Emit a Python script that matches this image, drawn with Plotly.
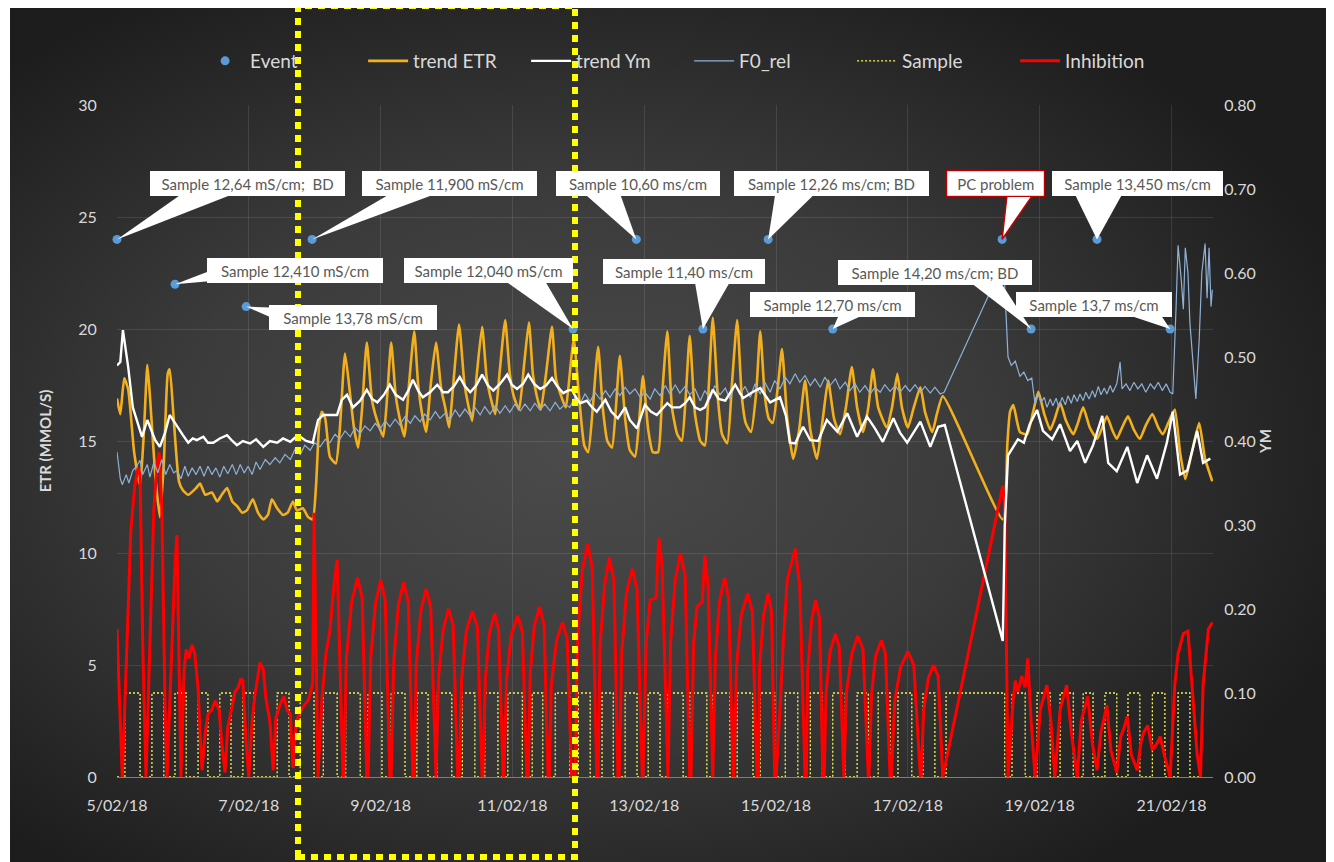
import base64
import numpy as np
import pandas as pd
import plotly.graph_objects as go

# ---------------------------------------------------------------- data
BASE_DATE = "2018-02-05"          # x values below are days after this date
X_END_DAYS = 16.63

EVENT_DAYS = [0.00, 0.88, 1.96, 2.96, 6.92, 7.88, 8.89, 9.88, 10.86, 13.43, 13.87, 14.87, 15.98]
EVENT_VALUES = [24, 22, 21, 24, 20, 24, 20, 24, 20, 24, 20, 24, 20]
EVENT_LABELS = [
    "Sample 12,64 mS/cm;  BD", "Sample 12,410 mS/cm", "Sample 13,78 mS/cm",
    "Sample 11,900 mS/cm", "Sample 12,040 mS/cm", "Sample 10,60 ms/cm",
    "Sample 11,40 ms/cm", "Sample 12,26 ms/cm; BD", "Sample 12,70 ms/cm",
    "PC problem", "Sample 14,20 ms/cm; BD", "Sample 13,450 ms/cm", "Sample 13,7 ms/cm",
]

ETR_DAYS = [0.00, 0.05, 0.11, 0.17, 0.26, 0.35, 0.41, 0.46, 0.50, 0.58, 0.65, 0.71, 0.77, 0.80, 0.86, 0.94,
            1.00, 1.08, 1.20, 1.26, 1.34, 1.44, 1.52, 1.59, 1.67, 1.75, 1.82, 1.90, 1.97, 2.06, 2.14, 2.22,
            2.29, 2.35, 2.43, 2.52, 2.59, 2.67, 2.73, 2.82, 2.90, 2.97, 3.02, 3.07, 3.11, 3.16, 3.23, 3.32,
            3.38, 3.46, 3.54, 3.60, 3.66, 3.72, 3.79, 3.87, 3.96, 4.04, 4.10, 4.16, 4.23, 4.29, 4.36, 4.43,
            4.51, 4.57, 4.63, 4.69, 4.76, 4.84, 4.92, 4.98, 5.04, 5.11, 5.19, 5.27, 5.33, 5.39, 5.46, 5.54,
            5.61, 5.68, 5.74, 5.81, 5.89, 5.96, 6.02, 6.10, 6.18, 6.25, 6.31, 6.37, 6.43, 6.51, 6.60, 6.66,
            6.74, 6.81, 6.87, 6.93, 7.01, 7.09, 7.15, 7.22, 7.30, 7.37, 7.44, 7.51, 7.57, 7.63, 7.71, 7.78,
            7.86, 7.92, 7.98, 8.06, 8.13, 8.21, 8.27, 8.35, 8.42, 8.50, 8.57, 8.63, 8.69, 8.77, 8.85, 8.92,
            8.98, 9.04, 9.12, 9.18, 9.26, 9.33, 9.41, 9.48, 9.54, 9.62, 9.70, 9.76, 9.83, 9.89, 9.95, 10.03,
            10.09, 10.17, 10.26, 10.35, 10.44, 10.52, 10.62, 10.71, 10.79, 10.88, 10.97, 11.06, 11.15, 11.23,
            11.32, 11.40, 11.47, 11.55, 11.68, 11.76, 11.84, 11.91, 12.00, 12.09, 12.19, 12.26, 12.37, 12.44,
            12.53, 13.44, 13.51, 13.55, 13.60, 13.70, 13.81, 13.90, 13.98, 14.07, 14.16, 14.23, 14.31, 14.40,
            14.51, 14.58, 14.66, 14.76, 14.87, 14.95, 15.02, 15.10, 15.17, 15.25, 15.34, 15.43, 15.52, 15.61,
            15.71, 15.80, 15.87, 15.95, 16.05, 16.13, 16.21, 16.31, 16.42, 16.51, 16.62]
ETR_VALUES = [16.9, 16.2, 17.8, 17.3, 14.5, 13.0, 15.5, 18.4, 17.0, 13.5, 11.6, 14.0, 18.0, 18.2, 16.0, 13.2,
              12.8, 12.6, 12.9, 13.1, 12.6, 12.7, 12.3, 12.6, 12.9, 12.3, 12.1, 11.8, 11.9, 12.4, 11.8, 11.5,
              11.7, 12.4, 12.0, 11.7, 11.8, 12.3, 11.9, 12.0, 11.6, 11.5, 13.0, 15.8, 16.3, 16.0, 14.3, 14.0,
              15.5, 18.9, 17.0, 15.5, 14.7, 16.5, 19.4, 16.8, 15.8, 15.2, 17.0, 19.4, 17.0, 16.0, 15.2, 17.5,
              19.9, 17.5, 16.2, 15.4, 17.5, 19.4, 17.3, 16.5, 15.6, 17.8, 20.2, 17.6, 16.6, 15.9, 18.0, 20.1,
              17.8, 16.8, 16.2, 18.2, 20.4, 18.0, 17.0, 16.4, 18.5, 20.3, 18.0, 17.0, 16.4, 18.0, 20.1, 17.8,
              17.0, 16.5, 18.0, 19.6, 17.0, 14.8, 14.5, 16.5, 19.2, 16.5, 15.0, 14.7, 16.5, 18.8, 16.0, 14.6,
              14.3, 15.8, 17.9, 15.5, 14.5, 14.5, 17.0, 19.9, 16.5, 15.3, 15.0, 17.0, 19.7, 16.2, 15.0, 14.8,
              17.5, 20.5, 16.8, 15.3, 14.9, 17.5, 20.4, 17.0, 15.8, 15.4, 17.2, 19.9, 17.0, 16.0, 15.8, 17.5,
              19.1, 16.0, 14.2, 15.5, 17.7, 15.5, 14.2, 16.0, 17.7, 16.0, 15.3, 16.5, 18.3, 16.5,
              15.4, 16.5, 18.2, 16.5, 15.6, 16.5, 18.0, 16.5, 15.6, 16.5, 17.4, 16.3, 15.4, 16.2,
              17.0, 11.5, 14.9, 16.3, 16.6, 15.4, 15.3, 16.3, 17.2, 16.2, 15.5, 16.0, 16.7, 15.9,
              15.3, 15.8, 16.5, 15.6, 15.1, 15.6, 16.1, 15.5, 15.1, 15.6, 16.1, 15.5, 15.1, 15.7,
              16.2, 15.6, 15.3, 15.8, 16.4, 14.5, 13.3, 14.5, 15.8, 14.2, 13.2]

YM_DAYS = [0.00, 0.05, 0.09, 0.17, 0.24, 0.38, 0.46, 0.58, 0.65, 0.73, 0.80, 0.91, 1.00, 1.08, 1.15, 1.21,
           1.31, 1.38, 1.46, 1.56, 1.67, 1.75, 1.82, 1.91, 2.02, 2.11, 2.22, 2.32, 2.43, 2.52, 2.63, 2.70,
           2.78, 2.87, 2.97, 3.05, 3.13, 3.23, 3.34, 3.41, 3.49, 3.58, 3.69, 3.79, 3.87, 3.95, 4.05, 4.14,
           4.23, 4.34, 4.42, 4.49, 4.57, 4.64, 4.75, 4.86, 4.95, 5.02, 5.11, 5.20, 5.28, 5.36, 5.45, 5.54,
           5.63, 5.71, 5.81, 5.92, 5.99, 6.07, 6.16, 6.24, 6.33, 6.42, 6.51, 6.60, 6.68, 6.77, 6.84, 6.90,
           6.98, 7.03, 7.13, 7.21, 7.28, 7.41, 7.50, 7.60, 7.71, 7.78, 7.89, 8.01, 8.10, 8.19, 8.27, 8.35,
           8.42, 8.54, 8.62, 8.69, 8.77, 8.85, 8.92, 9.04, 9.13, 9.23, 9.38, 9.50, 9.64, 9.76, 9.91, 10.06,
           10.15, 10.21, 10.29, 10.41, 10.52, 10.64, 10.77, 10.93, 11.08, 11.23, 11.38, 11.50, 11.62, 11.78,
           11.88, 11.99, 12.19, 12.34, 12.46, 12.56, 13.44, 13.47, 13.52, 13.60, 13.67, 13.76, 13.85, 13.96,
           14.05, 14.19, 14.31, 14.46, 14.57, 14.69, 14.81, 14.95, 15.04, 15.17, 15.33, 15.48, 15.63, 15.78,
           15.93, 16.02, 16.13, 16.24, 16.39, 16.48, 16.59]
YM_VALUES = [0.490, 0.494, 0.532, 0.488, 0.440, 0.405, 0.425, 0.401, 0.393, 0.410, 0.431, 0.417, 0.407, 0.398,
             0.403, 0.401, 0.405, 0.398, 0.398, 0.403, 0.407, 0.400, 0.395, 0.400, 0.397, 0.402, 0.393, 0.400,
             0.398, 0.403, 0.399, 0.404, 0.405, 0.400, 0.398, 0.425, 0.431, 0.431, 0.431, 0.449, 0.455, 0.440,
             0.448, 0.461, 0.450, 0.446, 0.455, 0.467, 0.455, 0.449, 0.460, 0.473, 0.460, 0.452, 0.458, 0.467,
             0.458, 0.458, 0.465, 0.476, 0.465, 0.458, 0.466, 0.479, 0.466, 0.460, 0.468, 0.479, 0.467, 0.462,
             0.468, 0.479, 0.468, 0.462, 0.466, 0.475, 0.465, 0.457, 0.460, 0.461, 0.450, 0.445, 0.448, 0.440,
             0.435, 0.449, 0.435, 0.427, 0.440, 0.425, 0.415, 0.443, 0.435, 0.431, 0.438, 0.445, 0.440, 0.440,
             0.445, 0.452, 0.440, 0.437, 0.440, 0.461, 0.450, 0.448, 0.467, 0.451, 0.458, 0.463, 0.446, 0.452,
             0.430, 0.398, 0.397, 0.417, 0.401, 0.400, 0.425, 0.411, 0.433, 0.405, 0.429, 0.415, 0.399, 0.427,
             0.410, 0.398, 0.423, 0.393, 0.417, 0.419, 0.162, 0.298, 0.383, 0.393, 0.402, 0.398, 0.420, 0.437,
             0.412, 0.402, 0.420, 0.388, 0.400, 0.374, 0.395, 0.430, 0.374, 0.364, 0.393, 0.350, 0.383, 0.355,
             0.398, 0.435, 0.360, 0.365, 0.412, 0.374, 0.379]

F0_DAYS = [0.00, 0.05, 0.08, 0.14, 0.18, 0.24, 0.29, 0.35, 0.39, 0.46, 0.50, 0.56, 0.62, 0.68, 0.74, 0.80,
           0.86, 0.91, 0.97, 1.03, 1.08, 1.14, 1.20, 1.26, 1.32, 1.38, 1.44, 1.50, 1.56, 1.62, 1.68, 1.75,
           1.81, 1.87, 1.93, 1.99, 2.05, 2.11, 2.17, 2.25, 2.32, 2.40, 2.47, 2.55, 2.63, 2.70, 2.78, 2.85,
           2.93, 3.00, 3.08, 3.16, 3.23, 3.31, 3.38, 3.46, 3.54, 3.61, 3.69, 3.76, 3.84, 3.92, 3.99, 4.07,
           4.14, 4.22, 4.29, 4.37, 4.45, 4.52, 4.60, 4.67, 4.75, 4.83, 4.90, 4.98, 5.05, 5.13, 5.20, 5.28,
           5.36, 5.43, 5.51, 5.58, 5.66, 5.74, 5.81, 5.89, 5.96, 6.04, 6.12, 6.19, 6.27, 6.34, 6.42, 6.49,
           6.57, 6.65, 6.72, 6.80, 6.87, 6.95, 7.03, 7.10, 7.18, 7.25, 7.33, 7.41, 7.48, 7.56, 7.63, 7.71,
           7.78, 7.86, 7.94, 8.01, 8.09, 8.16, 8.24, 8.32, 8.39, 8.47, 8.54, 8.62, 8.69, 8.77, 8.85, 8.92,
           9.00, 9.07, 9.15, 9.23, 9.30, 9.38, 9.45, 9.53, 9.61, 9.68, 9.76, 9.83, 9.91, 9.98, 10.06, 10.14,
           10.21, 10.29, 10.36, 10.44, 10.52, 10.59, 10.67, 10.74, 10.82, 10.90, 10.97, 11.05, 11.12, 11.20,
           11.27, 11.35, 11.43, 11.50, 11.58, 11.65, 11.73, 11.81, 11.88, 11.96, 12.03, 12.11, 12.19, 12.26,
           12.34, 12.41, 12.49, 12.55, 13.41, 13.46, 13.52, 13.57, 13.63, 13.70, 13.76, 13.82, 13.88, 13.93,
           13.98, 14.02, 14.07, 14.11, 14.16, 14.20, 14.25, 14.29, 14.34, 14.39, 14.43, 14.48, 14.52, 14.57,
           14.61, 14.66, 14.70, 14.75, 14.80, 14.84, 14.89, 14.93, 14.98, 15.02, 15.07, 15.11, 15.17, 15.22,
           15.25, 15.31, 15.37, 15.43, 15.49, 15.55, 15.61, 15.68, 15.74, 15.80, 15.86, 15.92, 15.98, 16.02,
           16.07, 16.10, 16.15, 16.18, 16.21, 16.25, 16.28, 16.32, 16.37, 16.42, 16.46, 16.51, 16.54, 16.57,
           16.60, 16.62]
F0_VALUES = [0.387, 0.355, 0.348, 0.360, 0.350, 0.365, 0.369, 0.377, 0.360, 0.372, 0.357, 0.375, 0.362, 0.378,
             0.360, 0.372, 0.362, 0.365, 0.355, 0.370, 0.358, 0.368, 0.360, 0.370, 0.358, 0.370, 0.360, 0.368,
             0.357, 0.370, 0.361, 0.372, 0.360, 0.372, 0.362, 0.370, 0.360, 0.375, 0.366, 0.378, 0.372, 0.380,
             0.374, 0.384, 0.378, 0.390, 0.384, 0.395, 0.389, 0.398, 0.393, 0.402, 0.398, 0.408, 0.402, 0.412,
             0.405, 0.416, 0.409, 0.418, 0.412, 0.421, 0.414, 0.424, 0.417, 0.426, 0.419, 0.429, 0.421, 0.430,
             0.423, 0.432, 0.425, 0.435, 0.427, 0.433, 0.425, 0.437, 0.429, 0.438, 0.430, 0.440, 0.431, 0.441,
             0.432, 0.442, 0.433, 0.442, 0.434, 0.444, 0.436, 0.444, 0.436, 0.445, 0.437, 0.444, 0.436, 0.446,
             0.438, 0.444, 0.440, 0.452, 0.445, 0.456, 0.447, 0.458, 0.450, 0.460, 0.452, 0.462, 0.454, 0.464,
             0.456, 0.462, 0.452, 0.458, 0.450, 0.462, 0.454, 0.466, 0.456, 0.467, 0.457, 0.465, 0.455, 0.462,
             0.448, 0.460, 0.450, 0.466, 0.455, 0.463, 0.450, 0.468, 0.455, 0.465, 0.452, 0.468, 0.456, 0.470,
             0.458, 0.472, 0.462, 0.476, 0.468, 0.480, 0.470, 0.478, 0.466, 0.474, 0.464, 0.476, 0.466, 0.474,
             0.462, 0.470, 0.460, 0.468, 0.458, 0.466, 0.456, 0.464, 0.458, 0.467, 0.459, 0.466, 0.458, 0.466,
             0.459, 0.467, 0.458, 0.465, 0.457, 0.464, 0.456, 0.458, 0.605, 0.600, 0.500, 0.490, 0.495, 0.477,
             0.482, 0.472, 0.475, 0.444, 0.456, 0.446, 0.452, 0.440, 0.450, 0.442, 0.451, 0.440, 0.452, 0.443,
             0.454, 0.445, 0.455, 0.447, 0.456, 0.448, 0.458, 0.450, 0.460, 0.452, 0.465, 0.455, 0.463, 0.456,
             0.466, 0.458, 0.468, 0.494, 0.462, 0.468, 0.460, 0.470, 0.462, 0.468, 0.458, 0.468, 0.462, 0.470,
             0.460, 0.468, 0.458, 0.456, 0.560, 0.633, 0.590, 0.557, 0.630, 0.600, 0.540, 0.500, 0.450, 0.520,
             0.600, 0.635, 0.570, 0.630, 0.560, 0.580]

SAMPLE_LEVEL = 3.75  # reads 0.10 on the YM axis
SAMPLE_ON_DAYS = [0.12, 0.53, 0.88, 1.23, 1.56, 1.91, 2.43, 2.78, 3.13, 3.47, 3.81, 4.16, 4.55, 4.86, 5.24,
                  5.58, 5.93, 6.30, 6.65, 7.00, 7.36, 7.71, 8.06, 8.36, 8.69, 9.04, 9.41, 9.76, 10.14, 10.52,
                  10.86, 11.23, 11.55, 11.85, 12.23, 12.58, 13.58, 13.96, 14.31, 14.66, 14.99, 15.34, 15.71, 16.10]
SAMPLE_OFF_DAYS = [0.35, 0.71, 1.05, 1.38, 1.73, 2.08, 2.61, 2.99, 3.34, 3.69, 4.02, 4.37, 4.72, 5.08, 5.43,
                   5.78, 6.15, 6.46, 6.87, 7.18, 7.53, 7.89, 8.24, 8.59, 8.95, 9.30, 9.65, 9.98, 10.33, 10.70,
                   11.05, 11.40, 11.73, 12.06, 12.41, 13.47, 13.78, 14.16, 14.51, 14.81, 15.17, 15.52, 15.90, 16.28]
SAMPLE_END_DAYS = 16.45

INHIB_DAYS = [0.00, 0.03, 0.08, 0.14, 0.21, 0.27, 0.32, 0.35, 0.39, 0.44, 0.50, 0.56, 0.61, 0.64, 0.68, 0.73,
              0.76, 0.83, 0.88, 0.91, 0.94, 0.97, 1.02, 1.05, 1.09, 1.14, 1.18, 1.23, 1.26, 1.29, 1.34, 1.38,
              1.44, 1.49, 1.55, 1.59, 1.64, 1.68, 1.75, 1.79, 1.84, 1.88, 1.91, 1.96, 2.00, 2.05, 2.09, 2.14,
              2.17, 2.22, 2.26, 2.32, 2.37, 2.41, 2.47, 2.53, 2.58, 2.63, 2.67, 2.72, 2.78, 2.84, 2.90, 2.94,
              2.97, 2.99, 3.02, 3.05, 3.11, 3.17, 3.23, 3.29, 3.34, 3.38, 3.43,
              3.44, 3.48, 3.56, 3.65, 3.72, 3.79, 3.81, 3.85, 3.92, 4.00, 4.07, 4.14,
              4.16, 4.20, 4.27, 4.35, 4.42, 4.49, 4.51, 4.54, 4.61, 4.69, 4.76, 4.83,
              4.84, 4.88, 4.95, 5.03, 5.10, 5.17, 5.19, 5.23, 5.30, 5.39, 5.47, 5.54,
              5.55, 5.59, 5.65, 5.73, 5.79, 5.86, 5.87, 5.91, 5.98, 6.08, 6.15, 6.22,
              6.24, 6.27, 6.33, 6.41, 6.48, 6.54, 6.56, 6.59, 6.67, 6.76, 6.83, 6.90,
              6.95, 6.99, 7.06, 7.14, 7.21, 7.28, 7.30, 7.33, 7.40, 7.47, 7.54, 7.60,
              7.62, 7.66, 7.73, 7.82, 7.89, 7.97, 7.98, 8.03, 8.09, 8.18, 8.22, 8.27, 8.35,
              8.36, 8.40, 8.47, 8.55, 8.62, 8.69, 8.71, 8.75, 8.80, 8.88, 8.92, 8.97, 9.03,
              9.04, 9.08, 9.14, 9.22, 9.28, 9.35, 9.36, 9.40, 9.47, 9.57, 9.64, 9.71,
              9.73, 9.75, 9.81, 9.88, 9.93, 9.98, 10.00, 10.05, 10.11, 10.17, 10.29, 10.36, 10.44,
              10.46, 10.48, 10.54, 10.60, 10.66, 10.71, 10.73, 10.76, 10.82, 10.90, 10.96, 11.02,
              11.03, 11.07, 11.15, 11.24, 11.32, 11.40, 11.41, 11.45, 11.51, 11.60, 11.66, 11.73,
              11.75, 11.80, 11.89, 12.00, 12.09, 12.19, 12.20, 12.24, 12.31, 12.39, 12.46, 12.53,
              13.44, 13.47, 13.52, 13.60, 13.63, 13.67, 13.73, 13.78, 13.82, 13.87, 13.93, 14.01, 14.07,
              14.11, 14.17, 14.23, 14.31, 14.37, 14.41, 14.48, 14.57, 14.63, 14.69, 14.73, 14.80, 14.87,
              14.93, 14.98, 15.02, 15.08, 15.17, 15.23, 15.28, 15.33, 15.39, 15.48, 15.54, 15.58, 15.64,
              15.71, 15.78, 15.83, 15.89, 15.98, 16.05, 16.10, 16.18, 16.25, 16.31, 16.39, 16.44, 16.48,
              16.56, 16.62]
INHIB_VALUES = [6.6, 4.0, 0.0, 5.0, 11.0, 13.0, 13.8, 13.5, 6.0, 0.0, 6.0, 12.0, 14.0, 14.5, 12.0, 3.0,
                0.0, 6.0, 9.5, 10.8, 5.0, 0.0, 4.8, 5.7, 5.3, 5.9, 5.5, 4.0, 2.0, 0.3, 2.0, 2.8,
                3.0, 3.4, 3.0, 1.5, 0.2, 2.2, 3.2, 3.8, 4.0, 4.4, 4.3, 1.5, 0.0, 2.5, 3.6, 4.5,
                5.1, 4.8, 3.5, 2.5, 0.3, 2.6, 3.2, 3.6, 3.0, 2.8, 0.4, 2.5, 2.9, 3.2, 3.4, 3.8,
                4.2, 11.8, 6.0, 0.0, 3.5, 5.5, 6.5, 8.5, 9.7, 5.0, 0.0,
                0, 5.3, 7.8, 8.9, 8.0, 0, 0, 5.3, 7.7, 8.8, 7.9, 0,
                0, 5.2, 7.7, 8.7, 7.8, 0, 0, 5.0, 7.4, 8.4, 7.6, 0,
                0, 4.5, 6.6, 7.5, 6.8, 0, 0, 4.4, 6.5, 7.4, 6.7, 0,
                0, 4.4, 6.4, 7.3, 6.6, 0, 0, 4.3, 6.3, 7.2, 6.5, 0,
                0, 4.6, 6.7, 7.6, 6.8, 0, 0, 4.1, 6.1, 6.9, 6.2, 0,
                0, 6.2, 9.2, 10.4, 9.4, 0, 0, 5.9, 8.6, 9.8, 8.8, 0,
                0, 5.6, 8.2, 9.3, 8.4, 0, 0, 6.0, 7.9, 8.0, 10.7, 9.5, 0,
                0, 6.0, 8.8, 10.0, 9.0, 0, 0, 6.0, 7.6, 7.8, 9.9, 8.5, 0,
                0, 5.3, 7.8, 8.9, 8.0, 0, 0, 4.9, 7.2, 8.2, 7.4, 0,
                0, 4.9, 7.2, 8.2, 7.4, 0, 0, 2.5, 6.0, 8.8, 10.2, 8.5, 0,
                0, 4.7, 7.0, 7.9, 7.1, 0, 0, 3.8, 5.6, 6.4, 5.8, 0,
                0, 3.8, 5.5, 6.3, 5.7, 0, 0, 3.7, 5.4, 6.1, 5.5, 0,
                0, 3.4, 4.9, 5.6, 5.0, 0, 0, 3.0, 4.4, 5.0, 4.5, 0,
                13.0, 12.0, 0.0, 3.5, 4.3, 3.8, 4.5, 4.0, 5.3, 2.5, 0.0, 3.0, 3.6,
                4.1, 2.5, 0.0, 3.0, 3.6, 4.1, 2.0, 0.0, 2.5, 3.1, 3.6, 1.5, 0.3,
                2.0, 2.6, 3.2, 1.2, 0.2, 1.8, 2.2, 2.7, 1.0, 0.3, 1.6, 2.0, 2.3,
                1.2, 1.5, 1.8, 1.0, 0.0, 4.1, 5.5, 6.4, 6.5, 4.0, 1.0, 0.0, 4.1,
                6.6, 6.9]

# ---------------------------------------------------------------- helpers
base = pd.Timestamp(BASE_DATE)


def to_dates(days):
    return base + pd.to_timedelta(np.asarray(days, dtype=float), unit="D")


sample_x, sample_y = [0.0], [0.0]
for on, off in zip(SAMPLE_ON_DAYS, SAMPLE_OFF_DAYS):
    sample_x += [on, on, off, off]
    sample_y += [0.0, SAMPLE_LEVEL, SAMPLE_LEVEL, 0.0]
sample_x.append(SAMPLE_END_DAYS)
sample_y.append(0.0)

FONT = "Lato, 'Open Sans', sans-serif"
TXT = "#d9d9d9"

fig = go.Figure()
fig.add_trace(go.Scatter(x=to_dates(sample_x), y=sample_y, mode="lines", name="Sample",
                         line=dict(color="#f5f55a", width=1.3, dash="2px,2px"), legendrank=5))
fig.add_trace(go.Scatter(x=to_dates(ETR_DAYS), y=ETR_VALUES, mode="lines", name="trend ETR",
                         line=dict(color="#F2B01E", width=2.6, shape="spline", smoothing=0.5),
                         legendrank=2))
fig.add_trace(go.Scatter(x=to_dates(INHIB_DAYS), y=INHIB_VALUES, mode="lines", name="Inhibition",
                         line=dict(color="#FF0000", width=3), legendrank=6))
fig.add_trace(go.Scatter(x=to_dates(EVENT_DAYS), y=EVENT_VALUES, mode="markers", name="Event",
                         marker=dict(color="#5B9BD5", size=9), cliponaxis=False, legendrank=1))
fig.add_trace(go.Scatter(x=to_dates(F0_DAYS), y=F0_VALUES, mode="lines", name="F0_rel", yaxis="y2",
                         line=dict(color="#8FB1D6", width=1.2), legendrank=4))
fig.add_trace(go.Scatter(x=to_dates(YM_DAYS), y=YM_VALUES, mode="lines", name="trend Ym", yaxis="y2",
                         line=dict(color="#FFFFFF", width=2.4), legendrank=3))

# ---------------------------------------------------------------- callouts (layout only)
CALLOUTS = [  # box offset (px, screen), box width, wedge base points (px, up positive)
    dict(ax=130, ay=-56, w=195, wedge=[(64, 45), (115, 45)]),
    dict(ax=120, ay=-14, w=176, wedge=[(34, 13), (34, 3)]),
    dict(ax=107, ay=11, w=168, wedge=[(25, -1), (25, -11)]),
    dict(ax=137, ay=-56, w=175, wedge=[(77, 45), (122, 45)]),
    dict(ax=-85, ay=-59, w=169, wedge=[(-68, 48), (-28, 48)]),
    dict(ax=2, ay=-56, w=164, wedge=[(-51, 45), (-16, 45)]),
    dict(ax=-19, ay=-58, w=162, wedge=[(-8, 47), (27, 47)]),
    dict(ax=63, ay=-56, w=195, wedge=[(7, 45), (46, 45)]),
    dict(ax=0, ay=-25, w=165, wedge=[(7, 16), (35, 16)]),
    dict(ax=-7, ay=-56, w=97, wedge=[(5, 45), (31, 45)], red=True),
    dict(ax=-96, ay=-57, w=194, wedge=[(-60, 46), (-30, 46)]),
    dict(ax=40, ay=-56, w=171, wedge=[(-22, 45), (25, 45)]),
    dict(ax=-76, ay=-25, w=156, wedge=[(-45, 15), (-10, 15)]),
]

shapes, annotations = [], []
ev_dates = to_dates(EVENT_DAYS)
for d, v, label, c in zip(ev_dates, EVENT_VALUES, EVENT_LABELS, CALLOUTS):
    red = c.get("red", False)
    (x1, y1), (x2, y2) = c["wedge"]
    shapes.append(dict(type="path", xref="x", yref="y", xsizemode="pixel", ysizemode="pixel",
                       xanchor=str(d), yanchor=v, layer="above",
                       path=f"M0,0 L{x1},{y1} L{x2},{y2} Z",
                       fillcolor="white",
                       line=dict(color="#C00000" if red else "rgba(0,0,0,0)", width=1.5 if red else 0)))
    annotations.append(dict(x=d, y=v, xref="x", yref="y", text=label, showarrow=False,
                            xshift=c["ax"], yshift=-c["ay"], xanchor="center", yanchor="middle",
                            width=c["w"] - 6, height=19, align="center", bgcolor="white",
                            bordercolor="#C00000" if red else "white", borderwidth=1.2 if red else 0,
                            borderpad=3, font=dict(family=FONT, size=15, color="#595959")))

# dotted highlight frame (paper coords)
shapes.append(dict(type="rect", xref="paper", yref="paper", x0=0.16515, x1=0.41788, y0=-0.1190,
                   y1=1.1473, line=dict(color="#FFFF00", width=6, dash="7px,6px"), layer="above"))

svg = ('<svg xmlns="http://www.w3.org/2000/svg" width="1316" height="858" viewBox="0 0 1316 858" '
       'preserveAspectRatio="none"><defs><radialGradient id="g" cx="0.43" cy="0.52" r="0.62">'
       '<stop offset="0" stop-color="#4b4b4b"/><stop offset="0.5" stop-color="#3b3b3b"/>'
       '<stop offset="1" stop-color="#1d1d1d"/></radialGradient></defs>'
       '<rect width="1316" height="858" fill="url(#g)"/></svg>')
bg_src = "data:image/svg+xml;base64," + base64.b64encode(svg.encode()).decode()

# The page body adds an 8px offset, so the figure is 8px smaller and shifted accordingly.
fig.update_layout(
    width=1326, height=854, template="none",
    paper_bgcolor="white", plot_bgcolor="rgba(0,0,0,0)",
    margin=dict(l=109, r=121, t=97, b=85, autoexpand=False),
    font=dict(family=FONT, color=TXT),
    images=[dict(source=bg_src, xref="paper", yref="paper", x=-0.09763, y=1.1503,
                 sizex=1.20073, sizey=1.27679, xanchor="left", yanchor="top",
                 sizing="stretch", layer="below")],
    showlegend=True,
    legend=dict(orientation="h", x=0.522, xanchor="center", y=1.0655, yanchor="middle",
                font=dict(family=FONT, size=19, color=TXT), bgcolor="rgba(0,0,0,0)",
                itemwidth=40, entrywidth=108, traceorder="normal"),
    xaxis=dict(type="date", range=[base, base + pd.Timedelta(days=X_END_DAYS)],
               tick0=base, dtick=2 * 86400000, tickformat="%-d/%m/%y",
               showgrid=True, gridcolor="rgba(255,255,255,0.10)", gridwidth=1,
               showline=True, linecolor="#7d8c3c", linewidth=1.2, zeroline=False,
               ticks="outside", ticklen=14, tickcolor="rgba(0,0,0,0)",
               tickfont=dict(family=FONT, size=16, color=TXT)),
    yaxis=dict(range=[0, 30], dtick=5, showgrid=True, gridcolor="rgba(255,255,255,0.10)",
               zeroline=False, showline=False, ticks="outside", ticklen=16,
               tickcolor="rgba(0,0,0,0)", tickfont=dict(family=FONT, size=16, color=TXT),
               title=dict(text="<b>ETR (MMOL/S)</b>", standoff=22,
                          font=dict(family=FONT, size=15, color=TXT))),
    yaxis2=dict(range=[0, 0.8], dtick=0.1, tickformat=".2f", overlaying="y", side="right",
                showgrid=False, zeroline=False, showline=False, ticks="outside", ticklen=7,
                tickcolor="rgba(0,0,0,0)", tickfont=dict(family=FONT, size=16, color=TXT),
                title=dict(text="<b>YM</b>", standoff=0,
                           font=dict(family=FONT, size=15, color=TXT))),
    shapes=shapes, annotations=annotations,
)

fig.write_html("out.html")
